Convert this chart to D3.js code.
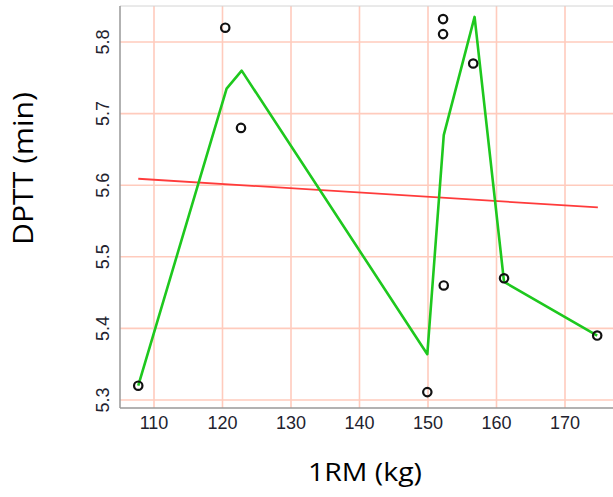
<!DOCTYPE html>
<html><head><meta charset="utf-8">
<script src="https://cdn.jsdelivr.net/npm/d3@7"></script>
<style>body{margin:0;background:#fff}svg{display:block}</style>
</head><body>
<svg id="c" width="613" height="497"></svg>
<script>
const pointsX = [107.7, 120.4, 122.7, 149.9, 152.2, 152.2, 152.3, 156.6, 161.1, 174.7];
const pointsY = [5.32, 5.82, 5.68, 5.311, 5.832, 5.811, 5.46, 5.77, 5.47, 5.39];
const smoothX = [107.7, 120.6, 122.8, 149.9, 152.3, 156.8, 161.1, 174.7];
const smoothY = [5.32, 5.735, 5.76, 5.364, 5.67, 5.835, 5.465, 5.39];
const fitX = [107.7, 174.8];
const fitY = [5.609, 5.569];
const xTicks = [110, 120, 130, 140, 150, 160, 170];
const yTicks = [5.3, 5.4, 5.5, 5.6, 5.7, 5.8];

const svg = d3.select("#c");
const L = 120, R = 613, T = 6, B = 408;
const x = d3.scaleLinear().domain([110, 170]).range([154, 565]);
const y = d3.scaleLinear().domain([5.3, 5.8]).range([400, 42]);

// grid
svg.append("g").selectAll("line").data(xTicks).join("line")
  .attr("x1", d => x(d)).attr("x2", d => x(d)).attr("y1", T).attr("y2", B)
  .attr("stroke", "#ffcbbd").attr("stroke-width", 1.6);
svg.append("g").selectAll("line").data(yTicks).join("line")
  .attr("x1", L).attr("x2", R).attr("y1", d => y(d)).attr("y2", d => y(d))
  .attr("stroke", "#ffcbbd").attr("stroke-width", 1.6);

// frame
svg.append("line").attr("x1", L).attr("x2", R).attr("y1", T).attr("y2", T).attr("stroke", "#d4d4d4").attr("stroke-width", 1);
svg.append("line").attr("x1", L).attr("x2", R).attr("y1", B).attr("y2", B).attr("stroke", "#999").attr("stroke-width", 1.5);
svg.append("line").attr("x1", L).attr("x2", L).attr("y1", T).attr("y2", B).attr("stroke", "#999").attr("stroke-width", 1.5);

// tick labels
svg.append("g").selectAll("text").data(xTicks).join("text")
  .attr("x", d => x(d)).attr("y", 429)
  .attr("text-anchor", "middle").attr("font-family", "Liberation Sans, Arial, sans-serif")
  .attr("font-size", 18).attr("fill", "#22222e").text(d => d);
svg.append("g").selectAll("text").data(yTicks).join("text")
  .attr("transform", d => `translate(109,${y(d)}) rotate(-90)`)
  .attr("text-anchor", "middle").attr("font-family", "Liberation Sans, Arial, sans-serif")
  .attr("font-size", 18).attr("fill", "#22222e").text(d => d.toFixed(1));

// lines
const line = d3.line().x(d => x(d[0])).y(d => y(d[1]));
svg.append("path").datum(fitX.map((v, i) => [v, fitY[i]]))
  .attr("d", line).attr("fill", "none").attr("stroke", "#ff3b3b").attr("stroke-width", 1.8);
svg.append("path").datum(smoothX.map((v, i) => [v, smoothY[i]]))
  .attr("d", line).attr("fill", "none").attr("stroke", "#1ec81e").attr("stroke-width", 2.6)
  .attr("stroke-linejoin", "round");

// points
svg.append("g").selectAll("circle").data(pointsX.map((v, i) => [v, pointsY[i]])).join("circle")
  .attr("cx", d => x(d[0])).attr("cy", d => y(d[1])).attr("r", 4.2)
  .attr("fill", "none").attr("stroke", "#111").attr("stroke-width", 2.2);

// axis titles
svg.append("text").attr("x", 365).attr("y", 481).attr("text-anchor", "middle")
  .attr("font-family", "Open Sans, Liberation Sans, sans-serif").attr("font-size", 26)
  .attr("textLength", 114).attr("lengthAdjust", "spacingAndGlyphs")
  .attr("fill", "#000").text("1RM (kg)");
svg.append("text").attr("transform", "translate(33,168.5) rotate(-90)").attr("text-anchor", "middle")
  .attr("font-family", "Open Sans, Liberation Sans, sans-serif").attr("font-size", 28)
  .attr("textLength", 153).attr("lengthAdjust", "spacingAndGlyphs")
  .attr("fill", "#000").text("DPTT (min)");
</script>
</body></html>
